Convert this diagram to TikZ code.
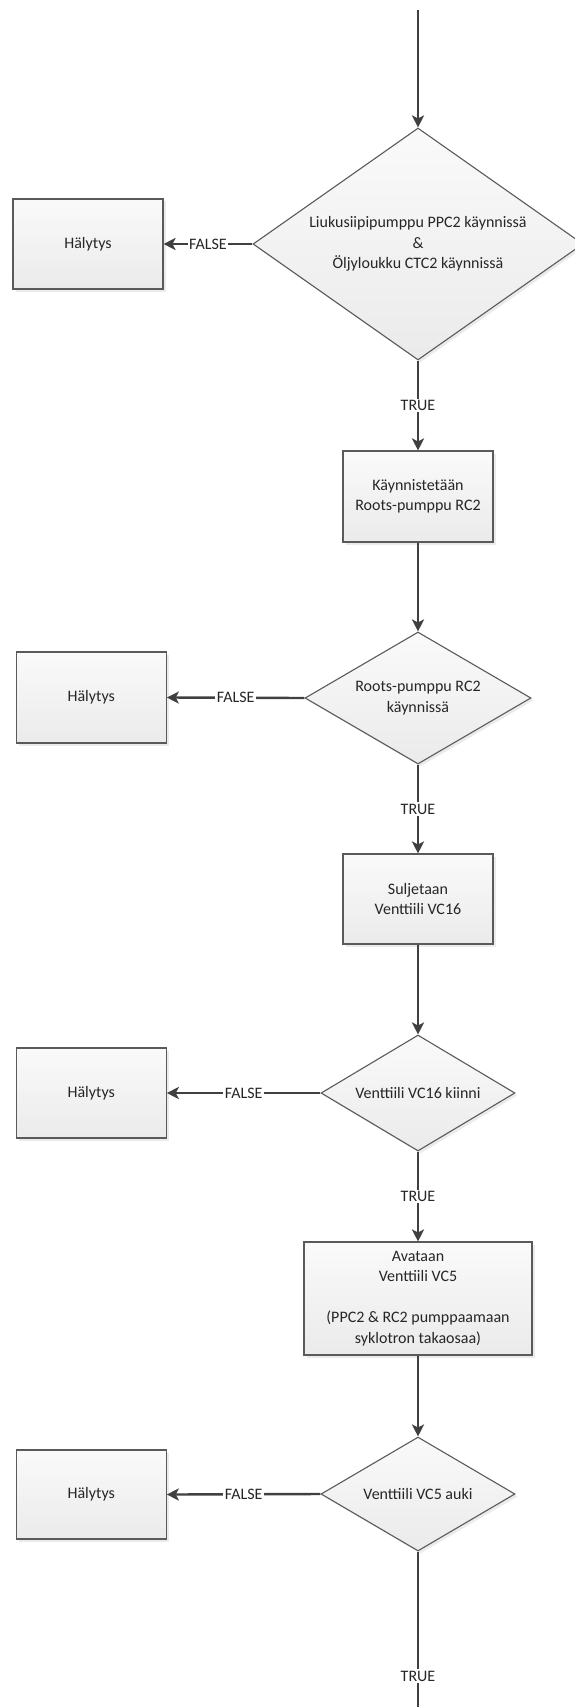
\documentclass[tikz,border=0pt]{standalone}
\usepackage{fontspec}
\setmainfont{Carlito}
\usetikzlibrary{arrows.meta,shapes.geometric,shadows}
\definecolor{linegray}{HTML}{404040}
\definecolor{textgray}{HTML}{262626}
\definecolor{edgegray}{HTML}{5A5A5A}
\tikzset{
  every node/.style={font=\fontsize{16}{20.5}\selectfont, text=textgray},
  softshadow/.style={drop shadow={shadow xshift=2.5pt, shadow yshift=-2.5pt, fill=black, opacity=0.08}},
  procbox/.style={rectangle, draw=edgegray, line width=1.1pt,
    top color=white!98!black, bottom color=white!92!black,
    softshadow, align=center, inner sep=0pt},
  decision/.style={diamond, draw=edgegray, line width=1.1pt,
    top color=white!98!black, bottom color=white!92!black,
    softshadow, align=center, inner sep=0pt},
  wire/.style={draw=linegray, line width=2.4pt},
  flow/.style={wire, -{Stealth[length=12pt,width=12pt,inset=3pt]}},
  lbl/.style={fill=white, inner sep=1.5pt}
}
\begin{document}
\begin{tikzpicture}[x=1pt, y=-1pt]
\useasboundingbox[fill=white] (0,0) rectangle (575,1707);

% entry point and exit of the sequence
\coordinate (start) at (418,10);
\coordinate (finish) at (418,1707);

% step 1: pumps running
\node[decision, minimum width=330pt, minimum height=232pt, aspect=1.42] (d1) at (418,244)
  {Liukusiipipumppu PPC2 käynnissä\\\&\\Öljyloukku CTC2 käynnissä};
\node[procbox, minimum width=150pt, minimum height=90pt] (h1) at (88,244) {Hälytys};

% step 2: start roots pump
\node[procbox, minimum width=150pt, minimum height=91pt] (b1) at (418,496.5)
  {Käynnistetään\\Roots-pumppu RC2};
\node[decision, minimum width=226pt, minimum height=132pt, aspect=1.71] (d2) at (418,698)
  {Roots-pumppu RC2\\käynnissä};
\node[procbox, minimum width=150pt, minimum height=91pt] (h2) at (91.25,697.5) {Hälytys};

% step 3: close VC16
\node[procbox, minimum width=150pt, minimum height=90pt] (b2) at (418,899)
  {Suljetaan\\Venttiili VC16};
\node[decision, minimum width=194pt, minimum height=116pt, aspect=1.67] (d3) at (418,1093)
  {Venttiili VC16 kiinni};
\node[procbox, minimum width=150pt, minimum height=90pt] (h3) at (91.25,1093) {Hälytys};

% step 4: open VC5
\node[procbox, minimum width=228pt, minimum height=113pt] (b3) at (418,1298.5)
  {Avataan\\Venttiili VC5\\[20.5pt](PPC2 \& RC2 pumppaamaan\\syklotron takaosaa)};
\node[decision, minimum width=194pt, minimum height=114pt, aspect=1.70] (d4) at (418,1494)
  {Venttiili VC5 auki};
\node[procbox, minimum width=150pt, minimum height=89pt] (h4) at (91.25,1494.5) {Hälytys};

% connectors
\draw[flow] (start) -- (d1.north);
\draw[flow] (d1.west) -- node[lbl] {FALSE} (h1.east);
\draw[flow] (d1.south) -- node[lbl] {TRUE} (b1.north);
\draw[flow] (b1.south) -- (d2.north);
\draw[flow] (d2.west) -- node[lbl] {FALSE} (h2.east);
\draw[flow] (d2.south) -- node[lbl] {TRUE} (b2.north);
\draw[flow] (b2.south) -- (d3.north);
\draw[flow] (d3.west) -- node[lbl] {FALSE} (h3.east);
\draw[flow] (d3.south) -- node[lbl] {TRUE} (b3.north);
\draw[flow] (b3.south) -- (d4.north);
\draw[flow] (d4.west) -- node[lbl] {FALSE} (h4.east);
\draw[wire] (d4.south) -- node[lbl, pos=0.8] {TRUE} (finish);
\end{tikzpicture}
\end{document}
